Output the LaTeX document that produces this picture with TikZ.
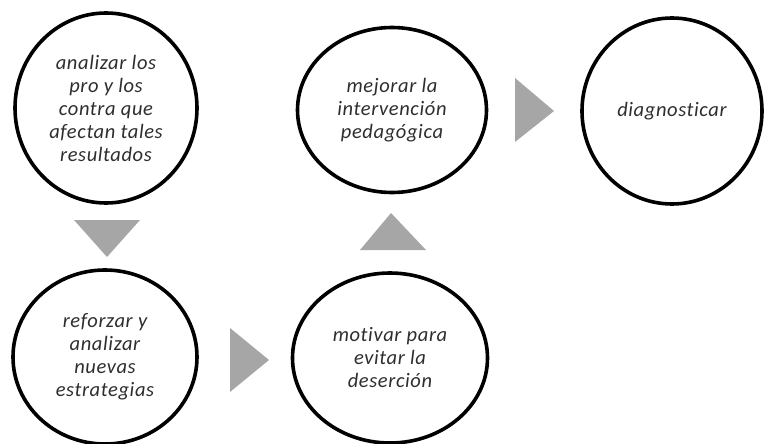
\documentclass[tikz,border=0pt]{standalone}
\usepackage{fontspec}
\setmainfont[Ligatures={NoCommon,NoDiscretionary}]{Carlito}
\usetikzlibrary{shapes.geometric}
\definecolor{arrowgray}{HTML}{A6A6A6}
\definecolor{txtgray}{HTML}{2E2E2E}
\begin{document}
\begin{tikzpicture}[x=1pt,y=-1pt,
  stepnode/.style={ellipse, draw=black, line width=3.6pt, inner sep=0pt,
    align=center, text=txtgray,
    font=\fontsize{20.5pt}{23pt}\selectfont\itshape\addfontfeatures{LetterSpace=3}},
  chevron/.style={fill=arrowgray, draw=none}]
\useasboundingbox (0,0) rectangle (764,444);
\node[stepnode, minimum width=182pt, minimum height=190pt] (a) at (106,108)
  {analizar los\\pro y los\\contra que\\afectan tales\\resultados};
\node[stepnode, minimum width=184pt, minimum height=174pt] (b) at (105,357)
  {reforzar y\\analizar\\nuevas\\estrategias};
\node[stepnode, minimum width=195pt, minimum height=170pt] (c) at (390,358)
  {motivar para\\evitar la\\deserción};
\node[stepnode, minimum width=189pt, minimum height=165pt] (d) at (392,110)
  {mejorar la\\intervención\\pedagógica};
\node[stepnode, minimum width=180pt, minimum height=186pt] (e) at (672,111)
  {diagnosticar};
% chevrons between steps
\fill[chevron] (74,220) -- (140,220) -- (107,257) -- cycle;
\fill[chevron] (230,328) -- (269,360) -- (230,392) -- cycle;
\fill[chevron] (360,250) -- (391,213) -- (426,250) -- cycle;
\fill[chevron] (515,78) -- (554,111) -- (515,142) -- cycle;
\end{tikzpicture}
\end{document}
